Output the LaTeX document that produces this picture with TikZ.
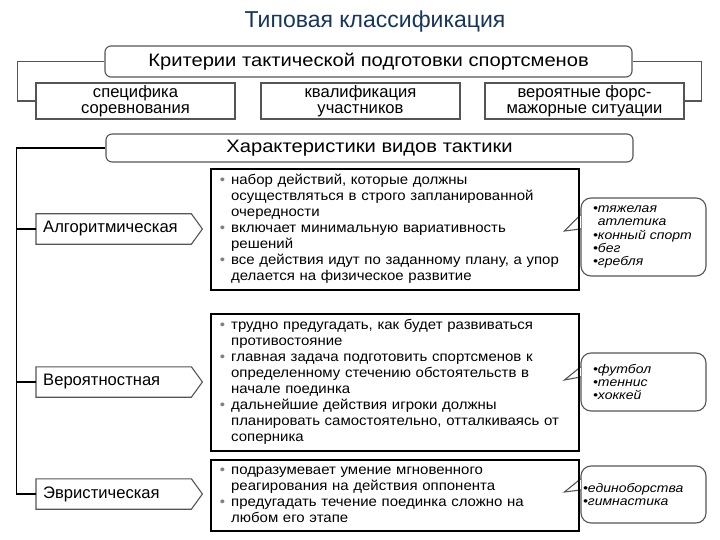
\documentclass[tikz,border=0pt]{standalone}
\usepackage{fontspec}
\setmainfont{Liberation Sans}
\newfontfamily\widesans{Liberation Sans}[FakeStretch = 1.12]
\newfontfamily\descsans{Liberation Sans}[FakeStretch = 1.07]
\usetikzlibrary{calc}
\definecolor{titleblue}{RGB}{23,54,93}
\definecolor{linegray}{RGB}{85,85,85}

\begin{document}
\begin{tikzpicture}[x = 1pt, y = -1pt,
  headbox/.style = {draw = linegray, line width = 1.1pt, rounded corners = 6pt,
    font = \widesans\fontsize{18}{21}\selectfont},
  critbox/.style = {draw = linegray, line width = 1.1pt, minimum width = 199pt,
    minimum height = 36pt, align = center, inner sep = 0pt,
    font = \fontsize{16.6}{16.5}\selectfont},
  kindbox/.style = {anchor = west, minimum width = 155pt, minimum height = 30pt,
    text width = 141pt, inner xsep = 7pt, align = left,
    font = \fontsize{16.6}{18}\selectfont},
  kindline/.style = {draw = linegray, line width = 1.1pt},
  descbox/.style = {draw = black, line width = 1.8pt, anchor = north west,
    minimum width = 368pt, text width = 356pt, inner xsep = 6pt, align = left,
    font = \descsans\fontsize{14}{16}\selectfont},
  notebox/.style = {draw = linegray, line width = 1.1pt, rounded corners = 10pt,
    minimum width = 125pt, text width = 101pt, inner xsep = 12pt, align = left,
    font = \widesans\itshape\fontsize{12.5}{13.3}\selectfont},
  bracket/.style = {draw = linegray, line width = 1.1pt},
  trunk/.style = {draw = black, line width = 1.8pt},
  tipline/.style = {draw = linegray, line width = 1.1pt}]

\fill[white] (0, 0) rectangle (720, 540);
\useasboundingbox (0, 0) rectangle (720, 540);

\node[font = \fontsize{23}{27}\selectfont, text = titleblue] (title) at (375, 22) {Типовая классификация};

\node[headbox, minimum width = 527pt, minimum height = 31pt] (crit) at (368.5, 61.5) {Критерии тактической подготовки спортсменов};
\node[critbox] (spec1) at (135.5, 101) {специфика\\соревнования};
\node[critbox] (spec2) at (360.5, 101) {квалификация\\участников};
\node[critbox] (spec3) at (584.5, 101) {вероятные форс-\\мажорные ситуации};

\draw[bracket] (crit.west) -- ++(-87, 0) |- (spec1.west);
\draw[bracket] (crit.east) -- ++(69, 0) |- (spec3.east);

\node[headbox, minimum width = 527pt, minimum height = 28pt] (kinds) at (369.5, 148) {Характеристики видов тактики};

\node[kindbox] (alg) at (36, 229) {Алгоритмическая};
\node[kindbox] (prob) at (36, 382) {Вероятностная};
\node[kindbox] (heur) at (36, 494) {Эвристическая};
\draw[kindline] (alg.north west) -- (alg.north east) -- ($(alg.east) + (11, 0)$) -- (alg.south east) -- (alg.south west) -- cycle;
\draw[kindline] (prob.north west) -- (prob.north east) -- ($(prob.east) + (11, 0)$) -- (prob.south east) -- (prob.south west) -- cycle;
\draw[kindline] (heur.north west) -- (heur.north east) -- ($(heur.east) + (11, 0)$) -- (heur.south east) -- (heur.south west) -- cycle;

\draw[trunk] (kinds.west) -- ++(-89, 0) coordinate (fork) |- (heur.west);
\draw[trunk] (fork |- alg.west) -- (alg.west);
\draw[trunk] (fork |- prob.west) -- (prob.west);

\node[notebox, minimum height = 78pt] (algnote) at (643.5, 237) {•тяжелая\\\phantom{•}атлетика\\•конный спорт\\•бег\\•гребля};
\node[notebox, minimum height = 58pt] (probnote) at (643.5, 382) {•футбол\\•теннис\\•хоккей};
\node[notebox, minimum height = 57pt, inner xsep = 2pt, text width = 121pt] (heurnote) at (643.5, 494.5) {•единоборства\\•гимнастика};

\fill[white] ($(algnote.west) + (-0.8, -21)$) rectangle ($(algnote.west) + (0.8, -9)$);
\draw[tipline] ($(algnote.west) + (0, -22)$) -- ($(algnote.west) + (-16, -6)$) -- ($(algnote.west) + (0, -8)$);
\fill[white] ($(probnote.west) + (-0.8, -14)$) rectangle ($(probnote.west) + (0.8, -6)$);
\draw[tipline] ($(probnote.west) + (0, -15)$) -- ($(probnote.west) + (-16, -2)$) -- ($(probnote.west) + (0, -5)$);
\fill[white] ($(heurnote.west) + (-0.8, -14.5)$) rectangle ($(heurnote.west) + (0.8, -5.5)$);
\draw[tipline] ($(heurnote.west) + (0, -15.5)$) -- ($(heurnote.west) + (-16, -2.5)$) -- ($(heurnote.west) + (0, -4.5)$);

\node[descbox, minimum height = 121pt] (algtext) at (210, 168) {%
\begin{tabular}{@{\hspace{3pt}}l@{\hspace{6pt}}l@{}}
\textcolor{gray}{\textbullet} & набор действий, которые должны\\
 & осуществляться в строго запланированной\\
 & очередности\\
\textcolor{gray}{\textbullet} & включает минимальную вариативность\\
 & решений\\
\textcolor{gray}{\textbullet} & все действия идут по заданному плану, а упор\\
 & делается на физическое развитие
\end{tabular}};
\node[descbox, minimum height = 137pt] (probtext) at (210, 313) {%
\begin{tabular}{@{\hspace{3pt}}l@{\hspace{6pt}}l@{}}
\textcolor{gray}{\textbullet} & трудно предугадать, как будет развиваться\\
 & противостояние\\
\textcolor{gray}{\textbullet} & главная задача подготовить спортсменов к\\
 & определенному стечению обстоятельств в\\
 & начале поединка\\
\textcolor{gray}{\textbullet} & дальнейшие действия игроки должны\\
 & планировать самостоятельно, отталкиваясь от\\
 & соперника
\end{tabular}};
\node[descbox, minimum height = 71pt] (heurtext) at (210, 459) {%
\begin{tabular}{@{\hspace{3pt}}l@{\hspace{6pt}}l@{}}
\textcolor{gray}{\textbullet} & подразумевает умение мгновенного\\
 & реагирования на действия оппонента\\
\textcolor{gray}{\textbullet} & предугадать течение поединка сложно на\\
 & любом его этапе
\end{tabular}};

\end{tikzpicture}
\end{document}
